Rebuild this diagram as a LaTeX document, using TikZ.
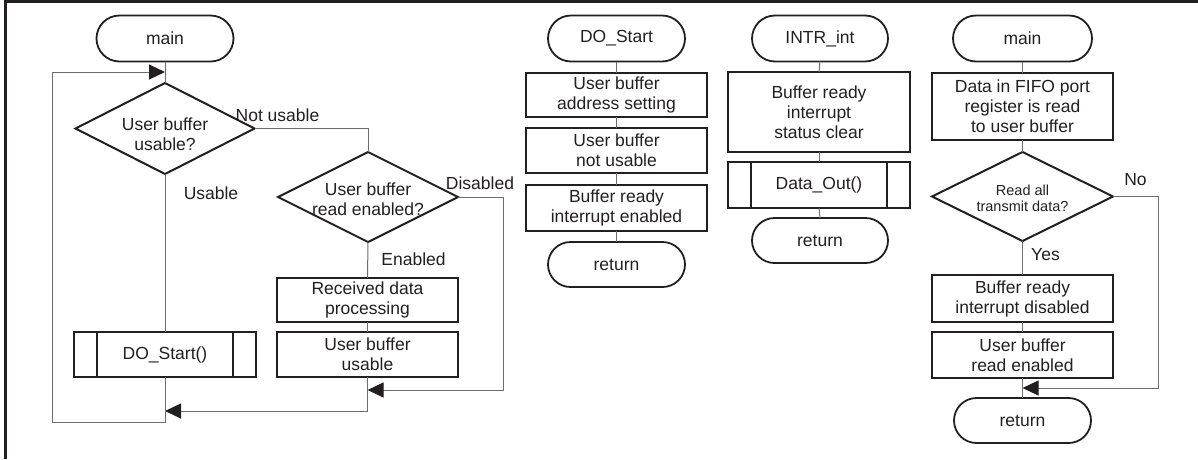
\documentclass[tikz,border=0pt]{standalone}
\usepackage{fontspec}
\setmainfont{Liberation Sans}
\usetikzlibrary{shapes.geometric,shapes.misc,arrows.meta}
\definecolor{ink}{HTML}{231F20}
\definecolor{wirecol}{HTML}{6D6E71}

\begin{document}
\begin{tikzpicture}[x=1pt,y=-1pt,
  every node/.style={inner sep=0pt, outer sep=0pt, align=center, text=ink,
    font=\fontsize{17.5}{20}\selectfont},
  term/.style={rounded rectangle, draw=ink, line width=1.8pt,
    minimum width=137pt, minimum height=46pt},
  proc/.style={rectangle, draw=ink, line width=2.2pt,
    minimum width=181pt, minimum height=45pt},
  dec/.style={diamond, draw=ink, line width=2pt,
    minimum width=180pt, minimum height=90pt},
  sidebar/.style={draw=ink, line width=2.2pt},
  wire/.style={draw=wirecol, line width=1pt},
  flow/.style={wire, -{Triangle[length=16pt,width=15pt,color=ink]}},
  small/.style={font=\fontsize{14.5}{16}\selectfont}
]
\useasboundingbox (0,0) rectangle (1198,459);

% page frame (top and left edges)
\draw[ink, line width=3pt] (5.5,459) -- (5.5,1.5) -- (1198,1.5);

% ---------------- main (receive loop) ----------------
\node[term] (m1) at (165,38.5) {main};
\node[dec, minimum width=179pt, minimum height=91pt,
  label={[yshift=-6pt]center:User buffer\\usable?}] (d1) at (165,128.5) {};
\node[dec, label={[yshift=-2pt]center:User buffer\\read enabled?}] (d2) at (368,197) {};
\node[proc, minimum height=44pt] (rdp) at (367.5,300) {Received data\\processing};
\node[proc] (ubu) at (367.5,354.5) {User buffer\\usable};
\node[proc, minimum width=182pt] (ds) at (165,354.5) {DO\_Start()};
\draw[sidebar] ([xshift=23pt]ds.north west) -- ([xshift=23pt]ds.south west);
\draw[sidebar] ([xshift=-23pt]ds.north east) -- ([xshift=-23pt]ds.south east);

\coordinate (j1) at (165,72);
\coordinate (j2) at (165,411);
\coordinate (j3) at (367.5,390);
\coordinate (c1) at (52,422);
\coordinate (c3) at (503,390);

\draw[wire] (m1.south) -- (d1.north);
\draw[wire] (d1.east) -| (d2.north);
\draw[wire] (d1.south) -- (ds.north);
\draw[wire] (d2.south) -- (rdp.north);
\draw[wire] (rdp.south) -- (ubu.north);
\draw[flow] (ubu.south) |- (j2);
\draw[flow] (d2.east) -| (c3) -- (j3);
\draw[flow] (ds.south) |- (c1) |- (j1);

\node (lnu) at (277.5,115) {Not usable};
\node (lus) at (211,193) {Usable};
\node (ldi) at (480,183.5) {Disabled};
\node (len) at (413.5,259) {Enabled};

% ---------------- DO_Start ----------------
\node[term] (t2) at (616.5,38.5) {DO\_Start};
\node[proc, minimum height=44pt] (b21) at (616.5,95) {User buffer\\address setting};
\node[proc] (b22) at (616.5,150.5) {User buffer\\not usable};
\node[proc, minimum height=46pt] (b23) at (616.5,208) {Buffer ready\\interrupt enabled};
\node[term, minimum height=45pt] (r2) at (616.5,264.5) {return};
\draw[wire] (t2.south) -- (b21.north);
\draw[wire] (b21.south) -- (b22.north);
\draw[wire] (b22.south) -- (b23.north);
\draw[wire] (b23.south) -- (r2.north);

% ---------------- INTR_int ----------------
\node[term, minimum width=136pt] (t3) at (820,38.5) {INTR\_int};
\node[proc, minimum width=182pt, minimum height=80pt] (b31) at (819,112) {Buffer ready\\interrupt\\status clear};
\node[proc, minimum width=182pt, minimum height=46pt] (p3) at (819,185) {Data\_Out()};
\draw[sidebar] ([xshift=23pt]p3.north west) -- ([xshift=23pt]p3.south west);
\draw[sidebar] ([xshift=-23pt]p3.north east) -- ([xshift=-23pt]p3.south east);
\node[term, minimum width=136pt, minimum height=45pt] (r3) at (820,240.5) {return};
\draw[wire] (t3.south) -- (b31.north);
\draw[wire] (b31.south) -- (p3.north);
\draw[wire] (p3.south) -- (r3.north);

% ---------------- main (read FIFO) ----------------
\node[term, minimum width=139pt] (t4) at (1022.5,38.5) {main};
\node[proc, minimum height=67pt] (b41) at (1022.5,106.5) {Data in FIFO port\\register is read\\to user buffer};
\node[dec, minimum width=181pt, minimum height=89pt,
  label={[small,yshift=-2pt]center:Read all\\transmit data?}] (d4) at (1022.5,196.5) {};
\node[proc, minimum height=47pt] (b42) at (1022.5,298.5) {Buffer ready\\interrupt disabled};
\node[proc, minimum height=46pt] (b43) at (1022.5,355) {User buffer\\read enabled};
\node[term, minimum height=45pt] (r4) at (1022.5,420.5) {return};

\coordinate (j4) at (1022.5,388);
\coordinate (c4) at (1158,388);

\draw[wire] (t4.south) -- (b41.north);
\draw[wire] (b41.south) -- (d4.north);
\draw[wire] (d4.south) -- (b42.north);
\draw[wire] (b42.south) -- (b43.north);
\draw[wire] (b43.south) -- (r4.north);
\draw[flow] (d4.east) -| (c4) -- (j4);

\node (lno) at (1135.5,180) {No};
\node (lye) at (1045.5,255) {Yes};
\end{tikzpicture}
\end{document}
